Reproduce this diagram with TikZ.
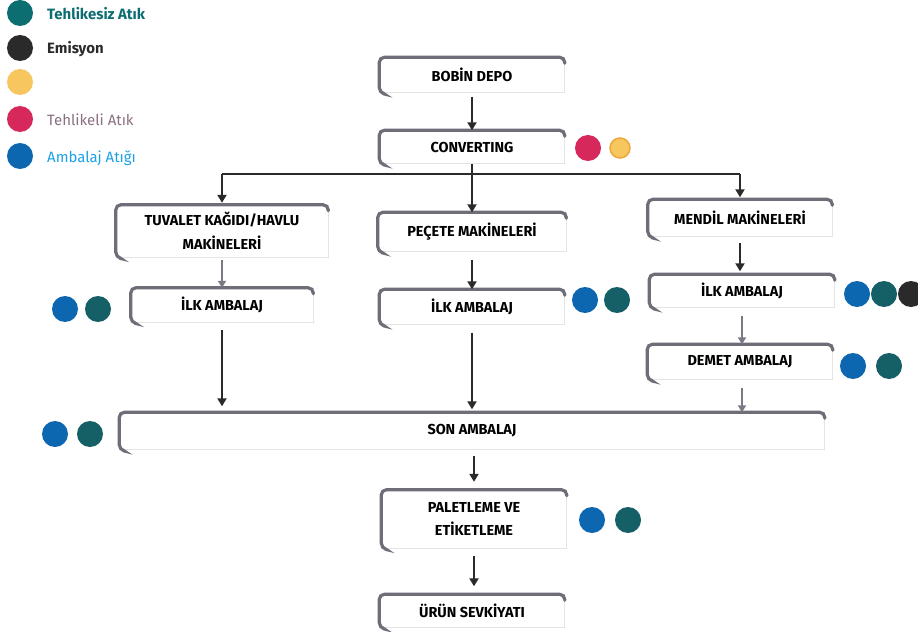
\documentclass[tikz,border=0pt]{standalone}
\usepackage{fontspec}
\setmainfont{Fira Sans}
\usetikzlibrary{arrows.meta,calc}
\definecolor{cteal}{HTML}{155F66}
\definecolor{cteallg}{HTML}{0D6E72}
\definecolor{cblack}{HTML}{2A2A2A}
\definecolor{cyellow}{HTML}{F7C65F}
\definecolor{cyelrim}{HTML}{EBAA3A}
\definecolor{cred}{HTML}{D6285A}
\definecolor{cblue}{HTML}{0C66B0}
\definecolor{cltblue}{HTML}{1DA1E6}
\definecolor{cboxgray}{HTML}{6E6E78}
\definecolor{cfaint}{HTML}{E4E4E4}
\definecolor{cpinkgray}{HTML}{8A7080}
\definecolor{carrgray}{HTML}{7A7A84}
\newcommand\drawboxedge[1]{%
  \draw[faintedge] (#1.north east) -- (#1.south east) -- (#1.south west);
  \draw[boxedge] ([shift={(4,1)}]#1.south west) -- (#1.south west) -- (#1.north west) -- (#1.north east) -- ([shift={(0,6)}]#1.north east);
}
\begin{document}
\begin{tikzpicture}[x=1bp,y=-1bp,
  box/.style={draw=none, align=center, inner sep=0pt, font=\fontsize{14.5}{24}\selectfont\bfseries},
  boxedge/.style={draw=cboxgray, line width=3.2bp, rounded corners=5bp, line cap=round},
  faintedge/.style={draw=cfaint, line width=0.8bp},
  dot/.style={circle, inner sep=0pt, minimum size=26bp},
  legtext/.style={anchor=west, inner sep=0pt, font=\fontsize{15}{17}\selectfont},
  blackarrow/.style={draw=cblack, line width=2.6bp, -{Triangle[width=9bp,length=8bp]}},
  grayarrow/.style={draw=carrgray, line width=1.8bp, -{Triangle[width=8bp,length=7bp]}},
  busline/.style={draw=cblack, line width=2.4bp}
]
\useasboundingbox (0,0) rectangle (918,632);
\fill[white] (0,0) rectangle (918,632);

% legend
\node[dot, fill=cteallg] (l1) at (20,13) {};
\node[dot, fill=cblack] (l2) at (20,48) {};
\node[dot, fill=cyellow] (l3) at (20,82) {};
\node[dot, fill=cred] (l4) at (20,119) {};
\node[dot, fill=cblue] (l5) at (20,156) {};
\node[legtext, text=cteallg, font=\fontsize{15}{17}\selectfont\bfseries] (t1) at (47,14) {Tehlikesiz Atık};
\node[legtext, text=cblack, font=\fontsize{15}{17}\selectfont\bfseries] (t2) at (47,49) {Emisyon};
\node[legtext, text=cpinkgray] (t4) at (47,120) {Tehlikeli Atık};
\node[legtext, text=cltblue] (t5) at (47,158) {Ambalaj Atığı};

% boxes
\node[box, minimum width=185bp, minimum height=35bp] (bobin) at (472,75) {BOBİN DEPO};
\node[box, minimum width=185bp, minimum height=33bp] (conv) at (472,147) {CONVERTING};
\node[box, minimum width=212bp, minimum height=52bp] (tuv) at (222,231) {TUVALET KAĞIDI/HAVLU\\MAKİNELERİ};
\node[box, minimum width=188bp, minimum height=39bp] (pec) at (472,232) {PEÇETE MAKİNELERİ};
\node[box, minimum width=184bp, minimum height=37bp] (men) at (740,218) {MENDİL MAKİNELERİ};
\node[box, minimum width=182bp, minimum height=34bp] (ilk1) at (222,305) {İLK AMBALAJ};
\node[box, minimum width=185bp, minimum height=35bp] (ilk2) at (472,307) {İLK AMBALAJ};
\node[box, minimum width=185bp, minimum height=33bp] (ilk3) at (742,291) {İLK AMBALAJ};
\node[box, minimum width=185bp, minimum height=35bp] (dem) at (740,362) {DEMET AMBALAJ};
\node[box, minimum width=705bp, minimum height=37bp] (son) at (472,431) {SON AMBALAJ};
\node[box, minimum width=185bp, minimum height=58bp] (pal) at (474,519) {PALETLEME VE\\ETİKETLEME};
\node[box, minimum width=185bp, minimum height=33bp] (urun) at (472,611) {ÜRÜN SEVKİYATI};

\foreach \b in {bobin,conv,tuv,pec,men,ilk1,ilk2,ilk3,dem,son,pal,urun} {\drawboxedge{\b}}

% indicator dots
\node[dot, fill=cred] (cvr) at (588,148) {};
\node[circle, inner sep=0pt, minimum size=20bp, fill=cyellow, draw=cyelrim, line width=1.5bp] (cvy) at (620,148) {};
\node[dot, fill=cblue] (i1b) at (65,309) {};
\node[dot, fill=cteal] (i1t) at (98,309) {};
\node[dot, fill=cblue] (i2b) at (585,300) {};
\node[dot, fill=cteal] (i2t) at (617,300) {};
\node[dot, fill=cblue] (i3b) at (857,294) {};
\node[dot, fill=cteal] (i3t) at (884,294) {};
\node[dot, fill=cblack] (i3k) at (911,294) {};
\node[dot, fill=cblue] (db) at (853,366) {};
\node[dot, fill=cteal] (dt) at (889,366) {};
\node[dot, fill=cblue] (sb) at (55,434) {};
\node[dot, fill=cteal] (st) at (90,434) {};
\node[dot, fill=cblue] (pb) at (592,520) {};
\node[dot, fill=cteal] (pt) at (628,520) {};

% connectors
\coordinate (busL) at (222,174);
\coordinate (busR) at (740,174);
\draw[busline] (busL) -- (busR);
\draw[blackarrow, shorten <=4bp] (bobin.south) -- (conv.north);
\draw[blackarrow] (conv.south) -- (pec.north);
\draw[blackarrow, shorten >=2bp] (busL) -- (tuv.north);
\draw[blackarrow, shorten >=2bp] (busR) -- (men.north);
\draw[grayarrow, shorten <=3bp] (tuv.south) -- (ilk1.north);
\draw[blackarrow, shorten <=8bp] (pec.south) -- (ilk2.north);
\draw[blackarrow, shorten <=6bp, shorten >=3bp] (men.south) -- (men.south |- ilk3.north);
\draw[grayarrow, shorten <=8bp] (ilk3.south) -- (ilk3.south |- dem.north);
\draw[grayarrow, shorten <=8bp] (ilk3.south |- dem.south) -- (ilk3.south |- son.north);
\draw[blackarrow, shorten <=8bp, shorten >=6bp] (ilk1.south) -- (ilk1.south |- son.north);
\draw[blackarrow, shorten <=8bp, shorten >=3bp] (ilk2.south) -- (ilk2.south |- son.north);
\draw[blackarrow, shorten <=6bp, shorten >=8bp] (pal.north |- son.south) -- (pal.north);
\draw[blackarrow, shorten <=8bp, shorten >=8bp] (pal.south) -- (pal.south |- urun.north);
\end{tikzpicture}
\end{document}
